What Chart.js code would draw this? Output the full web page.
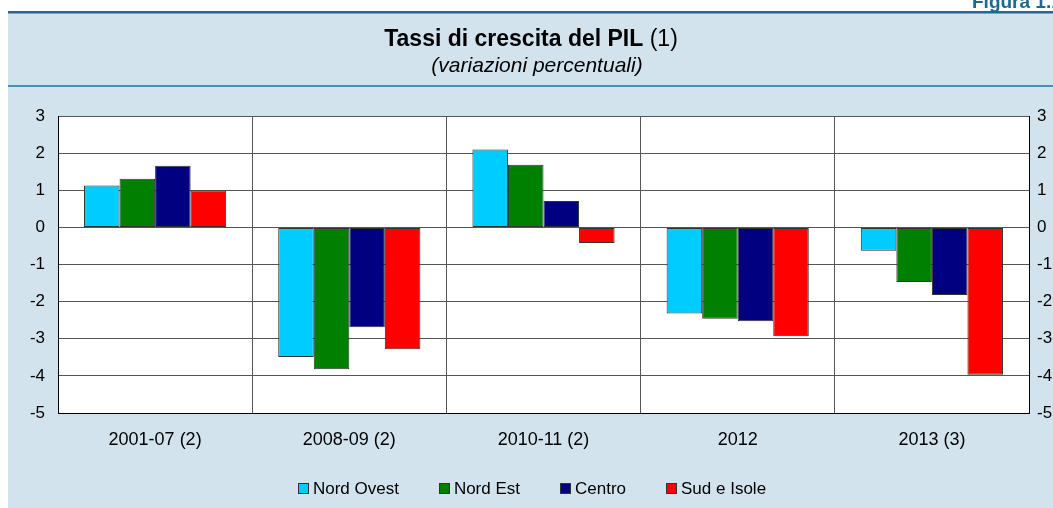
<!DOCTYPE html>
<html>
<head>
<meta charset="utf-8">
<script src="https://cdn.jsdelivr.net/npm/chart.js@4.4.1/dist/chart.umd.min.js"></script>
<style>
  html, body { margin: 0; padding: 0; background: #ffffff; }
  #wrap { position: absolute; left: 0; top: 0; width: 1053px; height: 508px; }
</style>
</head>
<body>
<div id="wrap"><canvas id="c"></canvas></div>
<script>
// ---- data ----
const categories = ['2001-07 (2)', '2008-09 (2)', '2010-11 (2)', '2012', '2013 (3)'];
const seriesNames = ['Nord Ovest', 'Nord Est', 'Centro', 'Sud e Isole'];
const nordOvest = [1.13, -3.49, 2.10, -2.32, -0.63];
const nordEst   = [1.31, -3.82, 1.69, -2.46, -1.47];
const centro    = [1.66, -2.69, 0.71, -2.53, -1.82];
const sudIsole  = [0.99, -3.28, -0.42, -2.93, -3.97];
const yMin = -5;
const yMax = 3;
const yStep = 1;
const titleBold = 'Tassi di crescita del PIL ';
const titleNote = '(1)';
const subtitle = '(variazioni percentuali)';
const figureLabel = 'Figura 1.1';

const seriesColors = ['#00CCFF', '#008000', '#000080', '#FF0000'];
const BG = '#D2E3ED';
const FONT = '"Liberation Sans", Arial, sans-serif';

const framePlugin = {
  id: 'frame',
  beforeDraw(chart) {
    const ctx = chart.ctx;
    const W = chart.width, H = chart.height;
    ctx.save();
    ctx.fillStyle = '#ffffff';
    ctx.fillRect(0, 0, W, H);
    ctx.fillStyle = BG;
    ctx.fillRect(8, 13, W - 8, H - 13);
    // top rule
    ctx.fillStyle = '#1C6A8E';
    ctx.fillRect(8, 11, W - 8, 2.5);
    // separator under title
    ctx.fillStyle = '#4B91B3';
    ctx.fillRect(8, 85, W - 8, 2);
    // figure label
    ctx.fillStyle = '#1C6A8E';
    ctx.font = 'bold 19px ' + FONT;
    ctx.textAlign = 'left';
    ctx.textBaseline = 'alphabetic';
    ctx.fillText(figureLabel, 972, 8);
    // title
    ctx.fillStyle = '#000';
    ctx.font = 'bold 23px ' + FONT;
    const w1 = ctx.measureText(titleBold).width;
    ctx.font = '23px ' + FONT;
    const w2 = ctx.measureText(titleNote).width;
    const x0 = 531 - (w1 + w2) / 2;
    ctx.font = 'bold 23px ' + FONT;
    ctx.fillText(titleBold, x0, 46);
    ctx.font = '23px ' + FONT;
    ctx.fillText(titleNote, x0 + w1, 46);
    // subtitle
    ctx.font = 'italic 21px ' + FONT;
    ctx.textAlign = 'center';
    ctx.fillText(subtitle, 537, 72);
    // plot background
    const a = chart.chartArea;
    ctx.fillStyle = '#ffffff';
    ctx.fillRect(a.left, a.top, a.right - a.left, a.bottom - a.top);
    ctx.restore();
  },
  afterDraw(chart) {
    const ctx = chart.ctx;
    ctx.save();
    ctx.font = '17px ' + FONT;
    ctx.textBaseline = 'alphabetic';
    ctx.textAlign = 'left';
    const box = 11, gapBT = 4, gapItem = 40;
    const items = chart.data.datasets.map(d => ({ label: d.label, color: d.backgroundColor }));
    let total = 0;
    items.forEach((it, i) => {
      it.w = ctx.measureText(it.label).width;
      total += box + gapBT + it.w + (i < items.length - 1 ? gapItem : 0);
    });
    let x = 532 - total / 2;
    const y = 483;
    items.forEach(it => {
      const bx = Math.round(x);
      ctx.fillStyle = it.color;
      ctx.fillRect(bx, y, box, box);
      ctx.strokeStyle = '#333';
      ctx.lineWidth = 1;
      ctx.strokeRect(bx + 0.5, y + 0.5, box - 1, box - 1);
      ctx.fillStyle = '#000';
      ctx.fillText(it.label, x + box + gapBT, y + box);
      x += box + gapBT + it.w + gapItem;
    });
    ctx.restore();
  }
};

const seriesValues = [nordOvest, nordEst, centro, sudIsole];

new Chart(document.getElementById('c'), {
  type: 'bar',
  data: {
    labels: categories,
    datasets: seriesNames.map((name, i) => ({
      label: name,
      data: seriesValues[i],
      backgroundColor: seriesColors[i],
      borderColor: '#333333',
      borderWidth: 1,
      borderSkipped: false,
      categoryPercentage: 0.732,
      barPercentage: 1.0,
      yAxisID: 'y'
    }))
  },
  options: {
    responsive: true,
    maintainAspectRatio: false,
    animation: false,
    devicePixelRatio: 1,
    layout: { padding: { left: 8, top: 116, right: 0, bottom: 0 } },
    plugins: {
      legend: { display: false },
      title: { display: false },
      tooltip: { enabled: false }
    },
    scales: {
      x: {
        position: 'bottom',
        grid: { display: true, offset: true, color: '#555555', lineWidth: 1, drawTicks: false },
        border: { display: true, color: '#000000', width: 1 },
        ticks: { color: '#000', font: { family: FONT, size: 18 }, padding: 16, maxRotation: 0 },
        afterFit(scale) { scale.height = 95; }
      },
      y: {
        position: 'left',
        min: yMin, max: yMax,
        grid: { color: '#555555', lineWidth: 1, drawTicks: false },
        border: { display: true, color: '#000000', width: 1 },
        ticks: { stepSize: yStep, color: '#000', font: { family: FONT, size: 17 }, padding: 13 },
        afterFit(scale) { scale.width = 50; }
      },
      y2: {
        position: 'right',
        min: yMin, max: yMax,
        grid: { display: false, drawTicks: false },
        border: { display: true, color: '#000000', width: 1 },
        ticks: { stepSize: yStep, color: '#000', font: { family: FONT, size: 17 }, padding: 8 },
        afterFit(scale) { scale.width = 24; }
      }
    }
  },
  plugins: [framePlugin]
});
</script>
</body>
</html>
